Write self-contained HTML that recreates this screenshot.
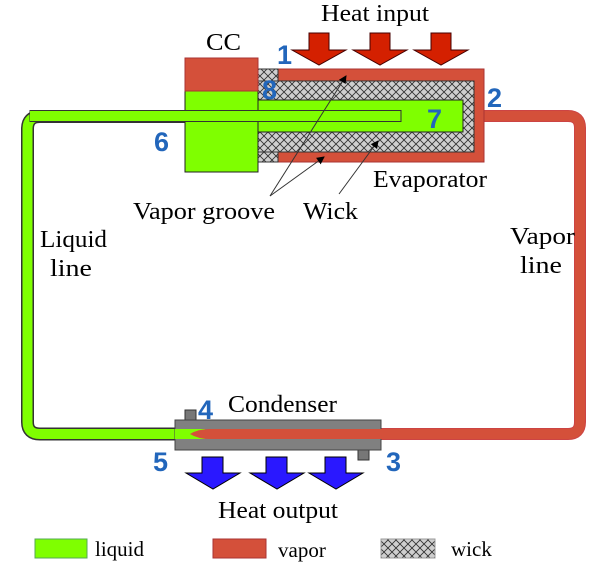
<!DOCTYPE html>
<html><head><meta charset="utf-8"><style>
body{margin:0;background:#fff;}
svg{display:block;}
.t{font-family:"Liberation Serif",serif;font-size:24px;fill:#000;}
.l{font-family:"Liberation Serif",serif;font-size:21px;fill:#000;}
.n{font-family:"Liberation Sans",sans-serif;font-size:27px;font-weight:bold;fill:#2266bb;}
</style></head><body>
<svg width="610" height="568" viewBox="0 0 610 568" xmlns="http://www.w3.org/2000/svg">
<defs>
<pattern id="wk" width="8" height="8" patternUnits="userSpaceOnUse">
<rect width="8" height="8" fill="#cfcfcf"/>
<path d="M0 0L8 8M8 0L0 8" stroke="#333" stroke-width="0.9"/>
</pattern>
<marker id="ah" markerWidth="8" markerHeight="8" refX="7" refY="4" orient="auto" markerUnits="userSpaceOnUse"><path d="M0 0L8 4L0 8z" fill="#000"/></marker>
</defs>
<path d="M190 116.5 H40 Q27.5 116.5 27.5 129 V422 Q27.5 434 40 434 H195" fill="none" stroke="#333" stroke-width="13"/>
<path d="M190 116.5 H40 Q27.5 116.5 27.5 129 V422 Q27.5 434 40 434 H195" fill="none" stroke="#7fff00" stroke-width="10"/>
<path d="M480 116 H568 Q580 116 580 128 V422 Q580 434 568 434 H200" fill="none" stroke="#c44" stroke-width="12"/>
<path d="M480 116 H568 Q580 116 580 128 V422 Q580 434 568 434 H200" fill="none" stroke="#d4503a" stroke-width="10"/>
<rect x="258" y="69" width="226" height="93" fill="#d4503a" stroke="#a33" stroke-width="1"/>
<rect x="258" y="69" width="20" height="93" fill="url(#wk)" stroke="#333"/>
<rect x="258" y="81" width="216" height="71" fill="url(#wk)" stroke="#333"/>
<rect x="256" y="100" width="207" height="32" fill="#7fff00" stroke="#222"/>
<rect x="185" y="58" width="73" height="114" fill="#7fff00" stroke="#222"/>
<rect x="185" y="58" width="73" height="33" fill="#d4503a" stroke="#a33"/>
<rect x="186" y="101" width="71" height="30" fill="#7fff00"/>
<rect x="30" y="110.5" width="371" height="11" fill="#7fff00" stroke="#333" stroke-width="1"/>
<rect x="30" y="111" width="160" height="10" fill="#7fff00"/>
<line x1="270" y1="196" x2="346" y2="76" stroke="#333" stroke-width="1" marker-end="url(#ah)"/>
<line x1="270" y1="196" x2="324" y2="157" stroke="#333" stroke-width="1" marker-end="url(#ah)"/>
<line x1="339" y1="194" x2="378" y2="141" stroke="#333" stroke-width="1" marker-end="url(#ah)"/>
<rect x="185" y="410" width="11" height="11" fill="#777" stroke="#333"/>
<rect x="358" y="449" width="11" height="11" fill="#777" stroke="#333"/>
<rect x="175" y="420" width="206" height="30" fill="#808080" stroke="#444"/>
<rect x="175" y="429" width="30" height="10" fill="#7fff00"/>
<path d="M190 434 Q198 429 210 429 H381 V439 H210 Q198 439 190 434z" fill="#d4503a"/>
<rect x="381" y="429" width="10" height="10" fill="#d4503a"/>
<g fill="#d42000" stroke="#400" stroke-width="1">
<path d="M309 33h20v17h17l-27 15l-27-15h17z"/>
<path d="M370 33h20v17h17l-27 15l-27-15h17z"/>
<path d="M431 33h20v17h17l-27 15l-27-15h17z"/>
</g>
<g fill="#2a18ff" stroke="#000" stroke-width="1">
<path d="M202 457h21v16h17l-27 16l-27-16h16z"/>
<path d="M266 457h21v16h17l-27 16l-27-16h16z"/>
<path d="M325 457h21v16h17l-27 16l-27-16h16z"/>
</g>
<text class="t" x="321" y="21" textLength="108" lengthAdjust="spacingAndGlyphs">Heat input</text>
<text class="t" x="206" y="50" textLength="35" lengthAdjust="spacingAndGlyphs">CC</text>
<text class="t" x="373" y="187" textLength="114" lengthAdjust="spacingAndGlyphs">Evaporator</text>
<text class="t" x="133" y="219" textLength="142" lengthAdjust="spacingAndGlyphs">Vapor groove</text>
<text class="t" x="303" y="219" textLength="55" lengthAdjust="spacingAndGlyphs">Wick</text>
<text class="t" x="40" y="247" textLength="67" lengthAdjust="spacingAndGlyphs">Liquid</text>
<text class="t" x="50" y="276" textLength="42" lengthAdjust="spacingAndGlyphs">line</text>
<text class="t" x="510" y="244" textLength="65" lengthAdjust="spacingAndGlyphs">Vapor</text>
<text class="t" x="520" y="273" textLength="42" lengthAdjust="spacingAndGlyphs">line</text>
<text class="t" x="228" y="412" textLength="109" lengthAdjust="spacingAndGlyphs">Condenser</text>
<text class="t" x="218" y="518" textLength="120" lengthAdjust="spacingAndGlyphs">Heat output</text>
<text class="n" x="277" y="64">1</text>
<text class="n" x="487" y="107">2</text>
<text class="n" x="386" y="471">3</text>
<text class="n" x="198" y="419">4</text>
<text class="n" x="153" y="471">5</text>
<text class="n" x="154" y="151">6</text>
<text class="n" x="427" y="128">7</text>
<text class="n" x="262" y="99">8</text>
<rect x="35" y="539" width="52" height="19" fill="#7fff00" stroke="#5a5"/>
<text class="l" x="95" y="556">liquid</text>
<rect x="213" y="539" width="53" height="19" fill="#d4503a" stroke="#a33"/>
<text class="l" x="278" y="557">vapor</text>
<rect x="381" y="539" width="54" height="19" fill="url(#wk)" stroke="#999"/>
<text class="l" x="451" y="556">wick</text>
</svg>
</body></html>
